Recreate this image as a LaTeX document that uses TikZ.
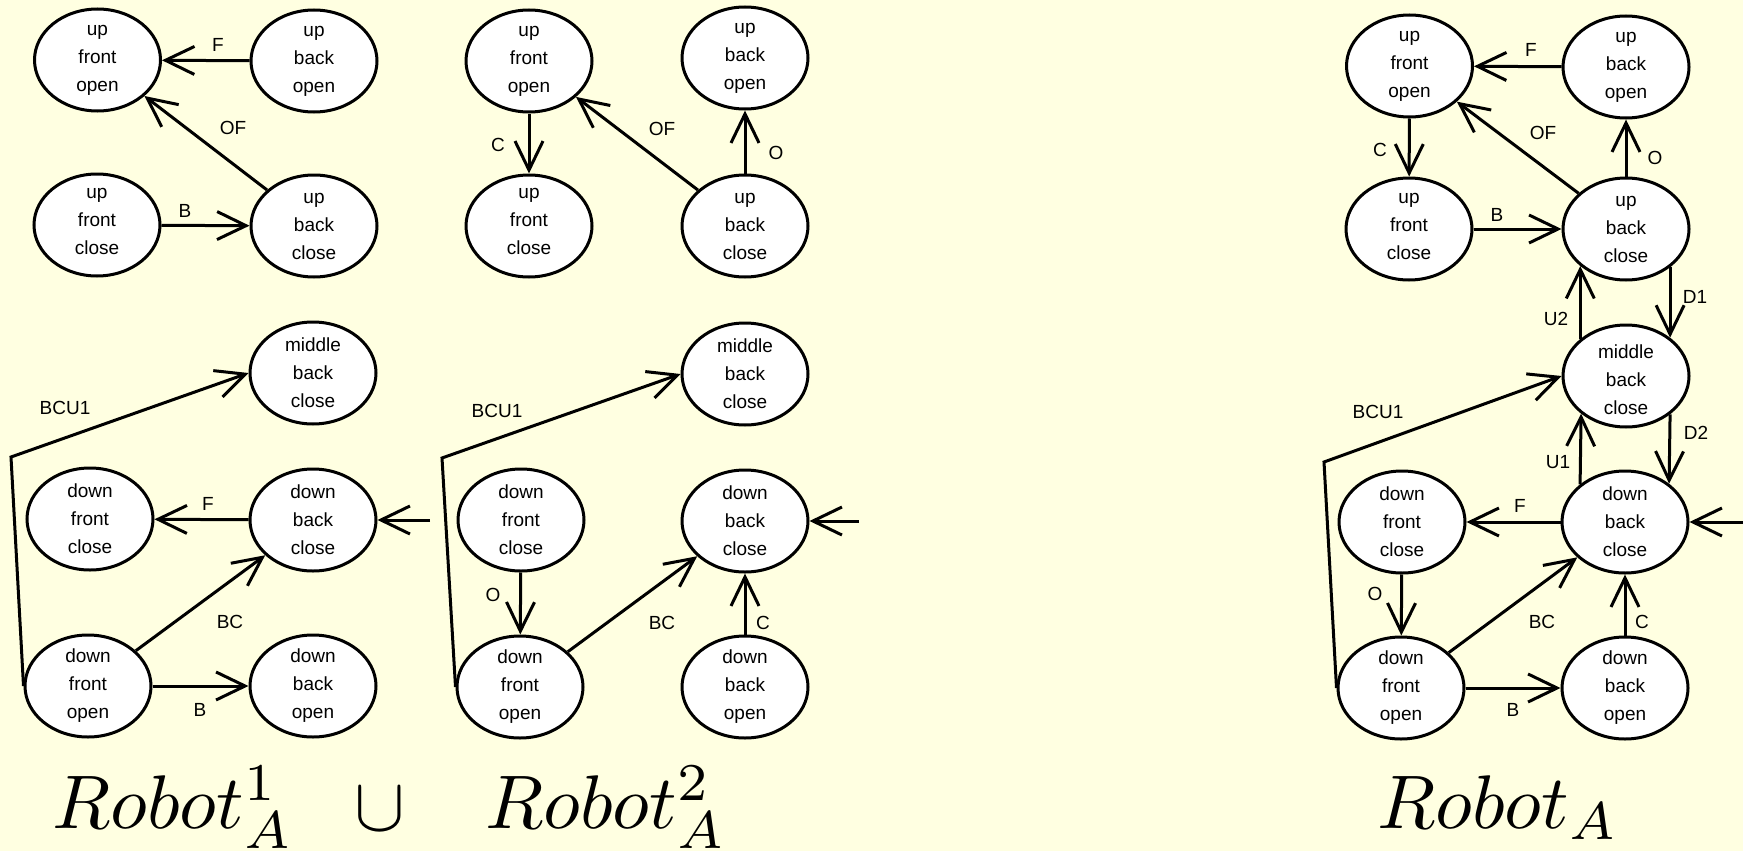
\documentclass[tikz,border=0pt]{standalone}
\usepackage{graphicx}
\usepackage{fontspec}
\newfontfamily\statefont{Liberation Sans}
\usetikzlibrary{arrows.meta,shapes.geometric}
\definecolor{paper}{RGB}{255,255,225}

\tikzset{
  state/.style={ellipse, draw, fill=white, line width=3pt,
                minimum width=126pt, minimum height=102pt, inner sep=0pt},
  stxt/.style={align=center, inner sep=0pt,
               font=\statefont\fontsize{19}{28}\selectfont},
  lbl/.style={inner sep=0pt, font=\statefont\fontsize{19}{23}\selectfont},
  arr/.style={line width=3pt, -{Straight Barb[length=29pt,width=28pt]}},
  title/.style={inner sep=0pt, anchor=base west},
}

% a state: ellipse plus its three-line text (optional downward text offset)
\newcommand{\stnode}[4][0]{%
  \node[state] (#2) at (#3) {};
  \node[stxt, yshift=-#1pt] (#2-t) at (#2.center) {#4};}
% large formula text
\newcommand{\bigmath}[1]{\scalebox{7.6}{$#1$}}

\begin{document}
\begin{tikzpicture}[x=1pt,y=-1pt]
\fill[paper] (0,0) rectangle (1743,851);
\useasboundingbox (0,0) rectangle (1743,851);

% ---------------- first component ----------------
\stnode{aufo}{97.5,60}{up\\front\\open}
\stnode{aubo}{314,61}{up\\back\\open}
\stnode[-4]{aufc}{97,225}{up\\front\\close}
\stnode{aubc}{314,226}{up\\back\\close}
\stnode{ambc}{313,373}{middle\\back\\close}
\stnode{adfc}{90,519}{down\\front\\close}
\stnode{adbc}{313,520}{down\\back\\close}
\stnode{adfo}{88,686}{down\\front\\open}
\stnode{adbo}{313,686}{down\\back\\open}
\coordinate (ak) at (11,457);
\coordinate (ain) at (430,520);

\draw[arr] (aubo) -- (aufo);
\draw[arr] (aubc) -- (aufo);
\draw[arr] (aufc) -- (aubc);
\draw[arr] (adfo.west) -- (ak) -- (ambc.west);
\draw[arr] (adbc) -- (adfc);
\draw[arr] (adfo) -- (adbc);
\draw[arr] (adfo) -- (adbo);
\draw[arr] (ain) -- (adbc);

\node[lbl] (al1) at (218,45) {F};
\node[lbl] (al2) at (233,128) {OF};
\node[lbl] (al3) at (185,211) {B};
\node[lbl] (al4) at (65,408) {BCU1};
\node[lbl] (al5) at (208,504) {F};
\node[lbl] (al6) at (230,622) {BC};
\node[lbl] (al7) at (200,710) {B};

% ---------------- second component ----------------
\stnode{bufo}{529,61}{up\\front\\open}
\stnode{bubo}{745,58}{up\\back\\open}
\stnode[-5]{bufc}{529,226}{up\\front\\close}
\stnode{bubc}{745,226}{up\\back\\close}
\stnode{bmbc}{745,374}{middle\\back\\close}
\stnode{bdfc}{521,520}{down\\front\\close}
\stnode{bdbc}{745,521}{down\\back\\close}
\stnode{bdfo}{520,687}{down\\front\\open}
\stnode{bdbo}{745,687}{down\\back\\open}
\coordinate (bk) at (442,458);
\coordinate (bin) at (859,521);

\draw[arr] (bufo) -- (bufc);
\draw[arr] (bubc) -- (bufo);
\draw[arr] (bubc) -- (bubo);
\draw[arr] (bdfo.west) -- (bk) -- (bmbc.west);
\draw[arr] (bdfc) -- (bdfo);
\draw[arr] (bdfo) -- (bdbc);
\draw[arr] (bdbo) -- (bdbc);
\draw[arr] (bin) -- (bdbc);

\node[lbl] (bl1) at (498,145) {C};
\node[lbl] (bl2) at (662,129) {OF};
\node[lbl] (bl3) at (776,153) {O};
\node[lbl] (bl4) at (497,411) {BCU1};
\node[lbl] (bl5) at (493,595) {O};
\node[lbl] (bl6) at (662,623) {BC};
\node[lbl] (bl7) at (763,623) {C};

% ---------------- combined robot ----------------
\stnode{cufo}{1409.5,66}{up\\front\\open}
\stnode{cubo}{1626,67}{up\\back\\open}
\stnode[-3]{cufc}{1409,229}{up\\front\\close}
\stnode{cubc}{1626,229}{up\\back\\close}
\stnode[4]{cmbc}{1626,376}{middle\\back\\close}
\stnode{cdfc}{1402,522}{down\\front\\close}
\stnode{cdbc}{1625,522}{down\\back\\close}
\stnode{cdfo}{1401,688}{down\\front\\open}
\stnode{cdbo}{1625,688}{down\\back\\open}
\coordinate (ck) at (1324,462);
\coordinate (cin) at (1743,522);

\draw[arr] (cubo) -- (cufo);
\draw[arr] (cufo) -- (cufc);
\draw[arr] (cubc) -- (cufo);
\draw[arr] (cubc) -- (cubo);
\draw[arr] (cufc) -- (cubc);
\draw[arr] (cubc.-41) -- (cmbc.41);
\draw[arr] (cmbc.141) -- (cubc.-141);
\draw[arr] (cmbc.-41) -- (cdbc.41);
\draw[arr] (cdbc.140) -- (cmbc.-140);
\draw[arr] (cdfo.west) -- (ck) -- (cmbc.west);
\draw[arr] (cdbc) -- (cdfc);
\draw[arr] (cdfc) -- (cdfo);
\draw[arr] (cdfo) -- (cdbc);
\draw[arr] (cdbo) -- (cdbc);
\draw[arr] (cdfo) -- (cdbo);
\draw[arr] (cin) -- (cdbc);

\node[lbl] (cl1) at (1531,50) {F};
\node[lbl] (cl2) at (1380,150) {C};
\node[lbl] (cl3) at (1543,133) {OF};
\node[lbl] (cl4) at (1655,158) {O};
\node[lbl] (cl5) at (1497,215) {B};
\node[lbl] (cl6) at (1695,297) {D1};
\node[lbl] (cl7) at (1556,319) {U2};
\node[lbl] (cl8) at (1378,412) {BCU1};
\node[lbl] (cl9) at (1696,433) {D2};
\node[lbl] (cl10) at (1558,462) {U1};
\node[lbl] (cl11) at (1520,506) {F};
\node[lbl] (cl12) at (1375,594) {O};
\node[lbl] (cl13) at (1542,622) {BC};
\node[lbl] (cl14) at (1642,622) {C};
\node[lbl] (cl15) at (1513,710) {B};

% ---------------- titles ----------------
\node[title] (t1) at (52,828) {\bigmath{Robot^1_A}};
\node[title, anchor=base] (tu) at (380,830) {\bigmath{\cup}};
\node[title] (t2) at (485,828) {\bigmath{Robot^2_A}};
\node[title] (t3) at (1377,828) {\bigmath{Robot_A}};
\end{tikzpicture}
\end{document}
